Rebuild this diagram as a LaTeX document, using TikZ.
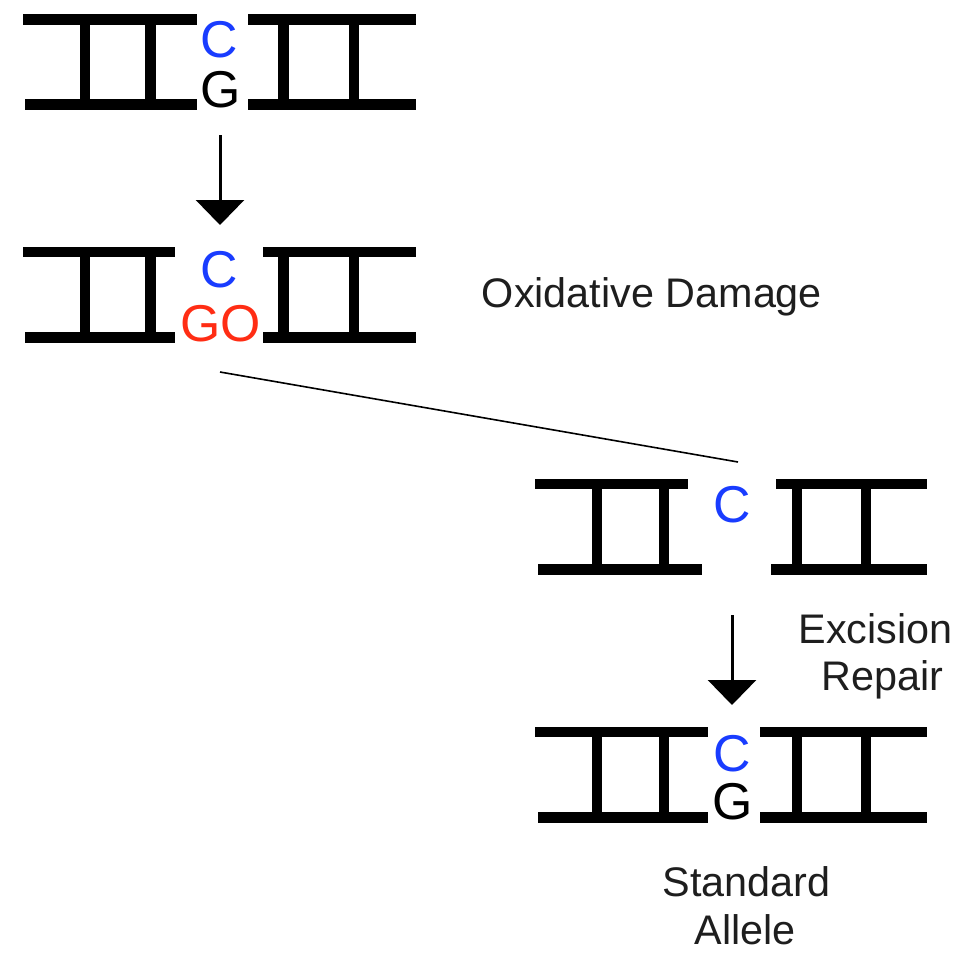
\documentclass[tikz,border=0pt]{standalone}
\usepackage{fontspec}
\setmainfont{Liberation Sans}
\usetikzlibrary{arrows.meta}
\definecolor{baseblue}{RGB}{25,60,255}
\definecolor{basered}{RGB}{255,45,20}
\definecolor{labelgray}{RGB}{30,30,30}
\tikzset{
  bar/.style={line width=10.5bp, line cap=butt, black},
  base/.style={font=\fontsize{52}{52}\selectfont, inner sep=0pt, anchor=base},
  lbl/.style={font=\fontsize{41.5}{41.5}\selectfont, inner sep=0pt, anchor=base, text=labelgray},
  flow/.style={line width=3bp, -{Triangle[width=48bp,length=25bp]}},
  link/.style={line width=1.6bp}
}
\begin{document}
\begin{tikzpicture}[x=1bp,y=-1bp]
\useasboundingbox (0,0) rectangle (961,953);
% ---- block 1 ----
\draw[bar] (23,19.5) -- (197,19.5);
\draw[bar] (25,104.5) -- (197,104.5);
\draw[bar] (85,19.5) -- (85,104.5);
\draw[bar] (150.5,19.5) -- (150.5,104.5);
\draw[bar] (248,19.5) -- (416,19.5);
\draw[bar] (248,104.5) -- (416,104.5);
\draw[bar] (283.5,19.5) -- (283.5,104.5);
\draw[bar] (354,19.5) -- (354,104.5);
\node[base, text=baseblue] (c1) at (219.5,57.5) {C};
\node[base] (g1) at (221,107.5) {G};
% ---- block 2 ----
\draw[bar] (23,252) -- (175,252);
\draw[bar] (25,337.5) -- (175,337.5);
\draw[bar] (85,252) -- (85,337.5);
\draw[bar] (150.5,252) -- (150.5,337.5);
\draw[bar] (263,252) -- (416,252);
\draw[bar] (263,337.5) -- (416,337.5);
\draw[bar] (283.5,252) -- (283.5,337.5);
\draw[bar] (354,252) -- (354,337.5);
\node[base, text=baseblue] (c2) at (219.5,287.5) {C};
\node[base, text=basered] (go2) at (220.5,341.5) {GO};
\node[lbl] (oxd) at (652,307) {Oxidative Damage};
% ---- block 3 ----
\draw[bar] (535,484) -- (688,484);
\draw[bar] (538,569.5) -- (702,569.5);
\draw[bar] (597,484) -- (597,569.5);
\draw[bar] (664,484) -- (664,569.5);
\draw[bar] (776,484) -- (927,484);
\draw[bar] (771,569.5) -- (927,569.5);
\draw[bar] (797,484) -- (797,569.5);
\draw[bar] (866,484) -- (866,569.5);
\node[base, text=baseblue] (c3) at (732,522.5) {C};
\node[lbl] (exc) at (875.5,643) {Excision};
\node[lbl] (rep) at (882.5,690.5) {Repair};
% ---- block 4 ----
\draw[bar] (535,732) -- (708,732);
\draw[bar] (538,817.5) -- (708,817.5);
\draw[bar] (597,732) -- (597,817.5);
\draw[bar] (664,732) -- (664,817.5);
\draw[bar] (760,732) -- (927,732);
\draw[bar] (760,817.5) -- (927,817.5);
\draw[bar] (797,732) -- (797,817.5);
\draw[bar] (866,732) -- (866,817.5);
\node[base, text=baseblue] (c4) at (732,771.5) {C};
\node[base] (g4) at (733,819.5) {G};
\node[lbl] (std) at (746.5,896) {Standard};
\node[lbl] (all) at (745,944.5) {Allele};
% ---- connectors ----
\coordinate (a1s) at (220,135);
\coordinate (a1e) at (220,225);
\coordinate (a2s) at (732,615);
\coordinate (a2e) at (732,705);
\coordinate (ls) at (220,372);
\coordinate (le) at (738,462);
\draw[flow] (a1s) -- (a1e);
\draw[flow] (a2s) -- (a2e);
\draw[link] (ls) -- (le);
\end{tikzpicture}
\end{document}
